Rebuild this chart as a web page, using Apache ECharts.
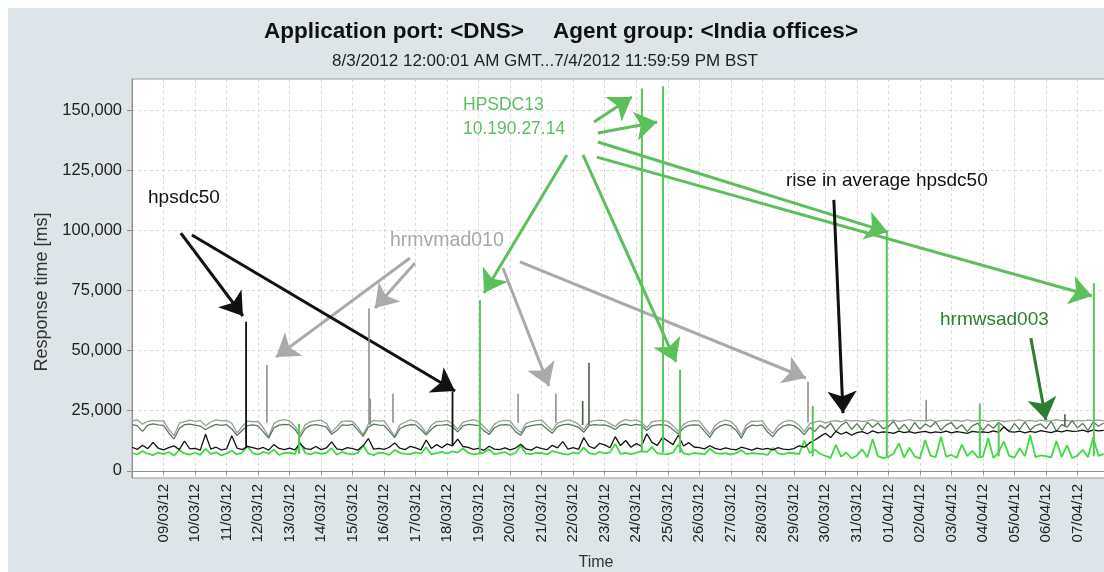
<!DOCTYPE html>
<html><head><meta charset="utf-8">
<script src="https://cdn.jsdelivr.net/npm/echarts@6/dist/echarts.min.js"></script>
<style>
html,body{margin:0;padding:0;background:#fff;overflow:hidden;}
#panel{position:absolute;left:8px;top:8px;width:1096px;height:564px;background:#dee5e8;}
#chart{position:absolute;left:0;top:0;width:1104px;height:572px;}
</style></head><body><div id="panel"></div><div id="chart"></div>
<script>
// ---- tick labels ----
const dayLabels = ['08/03/12','09/03/12','10/03/12','11/03/12','12/03/12','13/03/12','14/03/12','15/03/12','16/03/12','17/03/12','18/03/12','19/03/12','20/03/12','21/03/12','22/03/12','23/03/12','24/03/12','25/03/12','26/03/12','27/03/12','28/03/12','29/03/12','30/03/12','31/03/12','01/04/12','02/04/12','03/04/12','04/04/12','05/04/12','06/04/12','07/04/12','08/04/12'];
const yTicks = [0, 25000, 50000, 75000, 100000, 125000, 150000];
const stepHours = 4; // one reading every 4 hours from 08/03 00:00

// ---- series values (ms), 6 per day ----
const hpsdc50 = [
9800,8900,10600,9200,11800,9400, 8700,9600,10400,8800,12400,9100, 9300,8600,15200,9000,9800,8700,
9100,14600,9400,8800,10200,9600, 9000,9700,8600,10900,9300,8800, 9400,8700,11300,9200,8900,10100,
8800,9500,12000,9100,8700,9600, 9200,8600,10400,13400,9000,9300, 8900,9800,11600,9400,8800,10200,
9500,8700,12800,9300,10900,9600, 11200,10400,13200,10100,9700,8900, 9300,8500,10200,9000,8800,9500,
8700,9400,11000,9100,8600,9900, 9200,8800,10600,9500,12100,9000, 9600,8900,13800,10200,9300,11400,
10800,9600,14200,10500,12600,9800, 11300,10200,15400,11800,10600,13900, 12400,10900,14800,10300,11700,9900,
9600,9100,10400,9300,8800,9500, 9000,8700,9800,9200,8600,9400, 8900,9300,8700,9600,9000,8800,
9200,10400,9800,11600,12800,14200, 15600,13800,16400,15200,16100,14800, 15900,16300,15400,16600,15800,16200,
16000,15600,16500,15900,16300,15700, 16100,16400,15800,16200,15900,16500, 15800,16300,16000,15600,16400,16100,
16200,15900,16600,16000,18200,16300, 16100,16500,15800,16400,16000,16700, 16300,15900,16600,16200,16800,16400,
16500,16900,16200,17000,16600,16800
];
const hrmvmad010 = [
20800,21200,19400,20600,21000,20700, 20900,17200,14600,19800,20500,21100, 20600,20900,18700,20300,21200,20800,
21000,19800,15800,18400,20700,20400, 20600,17900,14200,19600,20900,21300, 20800,18600,15300,19200,20400,20900,
21100,19700,16100,18300,20600,20800, 20500,18200,15000,19500,21000,20700, 20900,17600,14400,19100,20300,21200,
20700,18800,15700,18900,20600,20500, 21000,19600,17300,20100,20800,21300, 20600,18300,16200,19400,20700,21000,
20800,17800,15900,19600,20500,20900, 21100,18900,16800,19800,20600,21200, 20700,19300,17100,20200,20900,21100,
20900,19600,18400,20500,21300,20800, 21200,20100,17900,20400,20800,21000, 20600,18700,16400,19300,20500,20900,
20800,17900,15200,18800,20400,21100, 20500,18400,14900,19200,20700,20600, 20900,17600,15600,18700,20300,21000,
20600,18900,16300,19500,20200,20800, 19800,20600,20900,20400,21100,20700, 21000,20500,20800,21200,20600,20900,
20700,21100,20600,20900,21300,20800, 21000,20700,21200,20500,20900,21100, 20800,21000,20600,21200,20700,20900,
21100,20600,20900,21000,20500,20800, 20900,21200,20700,21000,20600,21100, 20700,20900,21300,20800,21000,20600,
21000,20800,21100,20900,21200,20800
];
const hrmwsad003 = [
19200,18800,16400,19000,19500,19100, 18900,15800,13200,17600,19200,19400, 19000,18600,17100,18400,19300,18900,
19200,17400,14700,16900,18800,19100, 18700,16200,13600,17800,19000,19300, 19100,17300,14100,17600,18900,19200,
18800,18200,15200,16800,19100,18900, 19300,16900,14300,18100,19400,19000, 18900,16400,13800,17500,18700,19200,
19100,17200,14900,17300,18900,19000, 19200,18300,16200,18700,19300,19100, 18800,16700,15100,17900,19000,19200,
19000,16300,14800,18200,18800,19100, 19300,17400,15600,18400,19100,19400, 18900,18100,16000,18800,19200,19000,
19100,18400,17200,19000,19400,18800, 19300,18900,16800,18700,19100,19200, 18800,17100,15300,17800,18900,19100,
19000,16400,13900,17200,18700,19300, 18700,16900,13600,17700,19000,18800, 19100,16100,14200,17100,18600,19200,
18800,17300,15000,18000,16400,18900, 17600,19800,16300,18900,20400,17200, 19600,16800,20200,18100,19900,17500,
18400,20600,17100,19300,16600,20100, 17300,19500,18200,20300,16900,19100, 20000,17400,19200,16300,18700,19800,
16800,19400,17700,20100,18300,16500, 19600,17200,20300,16900,18800,19500, 17500,20600,16400,19300,18100,20900,
17900,19700,16700,20400,18500,19900
];
const hpsdc13 = [
7400,6800,8200,7100,6500,7600, 6900,7800,6300,8600,7200,6700, 7500,6600,9100,7000,7700,6400,
7200,8300,6800,7600,10200,7300, 6700,7900,7100,8800,6600,7400, 7600,6900,11800,7300,6800,7700,
7000,7500,9400,6700,7800,7100, 6800,7400,10600,7200,6500,7600, 7300,6600,8700,7500,7000,6900,
7700,7100,9800,6800,7400,7900, 7200,8100,7600,9300,7500,6800, 7000,7600,8900,6900,7300,7800,
6600,7400,10400,7100,6900,7500, 7300,6800,8200,7700,7000,6700, 7600,7100,9600,7400,6800,7900,
7200,7700,11200,7000,7500,6900, 7500,8300,7800,9900,7300,7000, 6900,7600,10800,7200,6700,7400,
7100,6800,9200,7500,7000,7300, 6700,7300,8600,6900,7400,7100, 7000,6600,9500,7200,6800,7500,
7300,6900,12600,7400,8800,7100, 6200,5400,10800,5900,7600,5100, 6400,8900,5600,13200,6100,5300,
5800,7200,11400,5500,9600,6000, 5200,12800,6300,5700,14200,5900, 6600,5400,10900,6100,8300,5600,
5900,13600,5300,7800,12200,6200, 5500,9400,6000,14800,5700,6400, 6100,5600,12400,5800,10600,5300,
6300,8700,5600,13900,6200,7000
];
// ---- short spikes: [day since 08/03, base ms, peak ms] ----
const hpsdc50Spikes = [[3.62, 9500, 62000], [10.17, 10500, 33000]];
const hrmvmad010Spikes = [[4.28, 20000, 44000], [7.52, 19500, 67500], [7.56, 19000, 30000], [8.28, 20000, 32000], [12.25, 20000, 32000], [13.45, 20000, 32000], [21.45, 20000, 37000], [25.2, 20500, 29500]];
const hrmwsad003Spikes = [[14.3, 19000, 29000], [14.5, 19000, 45000], [29.6, 18500, 23500]];
const hpsdc13Spikes = [[5.3, 7000, 19500], [11.04, 7000, 71000], [16.18, 7500, 159000], [16.85, 7500, 160000], [17.39, 7500, 42000], [21.6, 6000, 27000], [23.95, 6000, 100000], [26.9, 6000, 28000], [27.5, 6000, 20000], [30.52, 6000, 78000]];

// ---- annotation arrows: [day0, ms0, day1, ms1] ----
const arrowsBlack = [[1.55, 98900, 3.52, 64400], [1.90, 98100, 10.25, 33200], [22.27, 112700, 22.56, 24000]];
const arrowsGray = [[8.82, 88500, 4.57, 47300], [8.98, 86400, 7.71, 67700], [11.77, 84400, 13.23, 35300], [12.31, 86900, 21.38, 38600]];
const arrowsGreen = [[14.66, 145100, 15.86, 155500], [14.78, 140500, 16.66, 145100], [13.80, 131400, 11.17, 74000], [14.31, 131400, 17.26, 45300], [14.78, 136800, 23.98, 99300], [14.75, 130500, 30.46, 72700]];
const arrowsDark = [[28.52, 55200, 29.0, 21100]];

const FONT = "'Liberation Sans', Arial, sans-serif";
const toXY = arr => arr.map((v, i) => [i * stepHours / 24, v]);
const fmt = v => String(v).replace(/\B(?=(\d{3})+(?!\d))/g, ',');

function arrowMark(list, color) {
  return {
    silent: true, animation: false, symbol: ['none', 'arrow'], symbolSize: 22,
    label: {show: false}, lineStyle: {color: color, width: 3, type: 'solid', opacity: 1},
    emphasis: {disabled: true},
    data: list.map(a => [{coord: [a[0], a[1]]}, {coord: [a[2], a[3]]}])
  };
}
function lineSeries(name, arr, color, width, z, arrows, arrowColor) {
  const s = {type: 'line', name: name, data: toXY(arr), symbol: 'none', z: z, silent: true,
    lineStyle: {color: color, width: width}, animation: false};
  if (arrows) s.markLine = arrowMark(arrows, arrowColor);
  return s;
}
function spikeSeries(name, data, color, width, z) {
  return {type: 'custom', name: name, data: data, z: z, silent: true, animation: false,
    encode: {x: 0, y: [1, 2]},
    renderItem: (params, api) => {
      const a = api.coord([api.value(0), api.value(1)]);
      const b = api.coord([api.value(0), api.value(2)]);
      return {type: 'line', shape: {x1: a[0], y1: a[1], x2: b[0], y2: b[1]}, style: {stroke: color, lineWidth: width}};
    }};
}

const chart = echarts.init(document.getElementById('chart'), null, {renderer: 'canvas'});
chart.setOption({
  animation: false,
  backgroundColor: 'transparent',
  textStyle: {fontFamily: FONT},
  grid: {left: 132, top: 79, width: 977, height: 399, outerBoundsMode: 'none', containLabel: false,
    show: true, backgroundColor: '#ffffff', borderColor: '#9c9c9c', borderWidth: 1},
  xAxis: {
    type: 'value', min: 0, max: 31, interval: 1,
    axisLine: {show: true, lineStyle: {color: '#8f8f8f'}},
    axisTick: {show: true, length: 4, lineStyle: {color: '#8f8f8f'}},
    axisLabel: {rotate: 90, margin: 6, fontSize: 15, color: '#222', fontFamily: FONT, showMinLabel: false, showMaxLabel: false,
      formatter: v => dayLabels[v] || ''},
    splitLine: {show: true, lineStyle: {color: '#d9d9d9', type: [3, 3]}}
  },
  yAxis: {
    type: 'value', min: -3000, max: 163000,
    axisLine: {show: true, lineStyle: {color: '#8f8f8f'}},
    axisTick: {show: true, length: 5, lineStyle: {color: '#8f8f8f'}, customValues: yTicks},
    axisLabel: {customValues: yTicks, margin: 10, fontSize: 16.5, color: '#222', fontFamily: FONT, formatter: v => fmt(v)},
    splitLine: {show: true, lineStyle: {color: '#d9d9d9', type: [3, 3]}}
  },
  series: [
    lineSeries('hrmvmad010', hrmvmad010, '#9b9b9b', 1.3, 2, arrowsGray, '#aaaaaa'),
    lineSeries('hrmwsad003', hrmwsad003, '#567a56', 1.3, 3, arrowsDark, '#2e7d32'),
    lineSeries('HPSDC13', hpsdc13, '#3ddc3d', 1.8, 4, arrowsGreen, '#5cbf5c'),
    lineSeries('hpsdc50', hpsdc50, '#111111', 1.3, 5, arrowsBlack, '#111111'),
    spikeSeries('hrmvmad010 spikes', hrmvmad010Spikes, '#8f8f8f', 1.6, 6),
    spikeSeries('hrmwsad003 spikes', hrmwsad003Spikes, '#4a5f4a', 1.6, 6),
    spikeSeries('hpsdc50 spikes', hpsdc50Spikes, '#111111', 1.8, 7),
    spikeSeries('HPSDC13 spikes', hpsdc13Spikes, '#55c855', 2, 8)
  ],
  graphic: [
    {type: 'text', x: 264, y: 20, style: {text: 'Application port: <DNS>', font: "bold 22.5px " + FONT, fill: '#111'}},
    {type: 'text', x: 553, y: 20, style: {text: 'Agent group: <India offices>', font: "bold 22.5px " + FONT, fill: '#111'}},
    {type: 'text', x: 545, y: 61, style: {text: '8/3/2012 12:00:01 AM GMT...7/4/2012 11:59:59 PM BST', font: "17px " + FONT, fill: '#222', textAlign: 'center', textVerticalAlign: 'middle'}},
    {type: 'text', x: 42, y: 292, rotation: Math.PI / 2, style: {text: 'Response time [ms]', font: "18px " + FONT, fill: '#333', textAlign: 'center', textVerticalAlign: 'middle'}},
    {type: 'text', x: 596, y: 563, style: {text: 'Time', font: "16px " + FONT, fill: '#333', textAlign: 'center', textVerticalAlign: 'middle'}},
    {type: 'text', x: 148, y: 188, z: 20, style: {text: 'hpsdc50', font: "19px " + FONT, fill: '#111'}},
    {type: 'text', x: 390, y: 231, z: 20, style: {text: 'hrmvmad010', font: "19.5px " + FONT, fill: '#a8a8a8'}},
    {type: 'text', x: 463, y: 93, z: 20, style: {text: 'HPSDC13\n10.190.27.14', font: "17.5px " + FONT, lineHeight: 24, fill: '#5cbf5c'}},
    {type: 'text', x: 786, y: 171, z: 20, style: {text: 'rise in average hpsdc50', font: "19px " + FONT, fill: '#111'}},
    {type: 'text', x: 940, y: 310, z: 20, style: {text: 'hrmwsad003', font: "19px " + FONT, fill: '#2e7d32'}}
  ]
});
</script></body></html>
